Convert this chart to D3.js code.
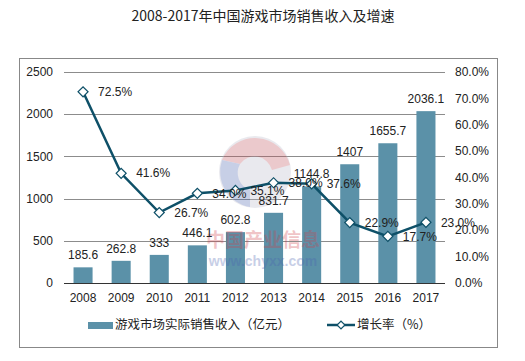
<!DOCTYPE html>
<html lang="zh">
<head>
<meta charset="UTF-8">
<title>2008-2017年中国游戏市场销售收入及增速</title>
<style>
  body { margin: 0; background: #fff; }
  svg { display: block; font-family: "Liberation Sans", Arial, sans-serif; }
</style>
</head>
<body>
<svg id="chart"></svg>
<script src="https://d3js.org/d3.v7.min.js"></script>
<script>
// data
const years = ["2008", "2009", "2010", "2011", "2012", "2013", "2014", "2015", "2016", "2017"];
const revenue = [185.6, 262.8, 333, 446.1, 602.8, 831.7, 1144.8, 1407, 1655.7, 2036.1];
const growth = [72.5, 41.6, 26.7, 34.0, 35.1, 38.0, 37.6, 22.9, 17.7, 23.0];
const leftTicks = [0, 500, 1000, 1500, 2000, 2500];
const rightTicks = [0, 10, 20, 30, 40, 50, 60, 70, 80];

const width = 525, height = 361;
const barColor = "#5b91a8", lineColor = "#0e5068";
const cjk = "'Noto Sans CJK SC', sans-serif";

const svg = d3.select("#chart")
    .attr("width", width)
    .attr("height", height)
    .attr("viewBox", [0, 0, width, height]);

// title
svg.append("text")
    .attr("x", 263).attr("y", 21)
    .attr("text-anchor", "middle")
    .attr("font-family", cjk)
    .attr("font-size", 14)
    .attr("fill", "#222")
    .text("2008-2017年中国游戏市场销售收入及增速");

// outer frame
svg.append("rect")
    .attr("x", 19.5).attr("y", 58.5)
    .attr("width", 478).attr("height", 289)
    .attr("fill", "none").attr("stroke", "#888");

const x = d3.scaleBand(years, [64, 445]).paddingInner(0.5).paddingOuter(0.25);
const yL = d3.scaleLinear([0, 2500], [283, 72]);
const yR = d3.scaleLinear([0, 80], [283, 72]);

// grid
svg.append("g")
    .selectAll("line")
    .data(leftTicks.slice(1))
    .join("line")
    .attr("x1", 64).attr("x2", 445)
    .attr("y1", d => Math.round(yL(d)) + 0.5)
    .attr("y2", d => Math.round(yL(d)) + 0.5)
    .attr("stroke", "#8c8c8c");

// bars
svg.append("g")
    .attr("fill", barColor)
    .selectAll("rect")
    .data(years)
    .join("rect")
    .attr("x", d => x(d))
    .attr("y", (d, i) => yL(revenue[i]))
    .attr("width", x.bandwidth())
    .attr("height", (d, i) => yL(0) - yL(revenue[i]));

// watermark (faint logo over the plot)
const wm = svg.append("g").attr("opacity", 0.3);
wm.append("circle").attr("cx", 255).attr("cy", 172).attr("r", 36).attr("fill", "#b8b8c8");
wm.append("path")
    .attr("d", "M222,160 A36,36 0 0 1 290,165 L272,170 A18,18 0 0 0 240,164 Z")
    .attr("fill", "#c0505a");
wm.append("path")
    .attr("d", "M222,160 A36,36 0 0 0 250,207 L250,190 A18,18 0 0 1 240,164 Z")
    .attr("fill", "#4a62b0");
wm.append("text")
    .attr("x", 263).attr("y", 247)
    .attr("text-anchor", "middle")
    .attr("font-family", cjk).attr("font-weight", "bold")
    .attr("font-size", 19).attr("fill", "#d0404a")
    .text("中国产业信息");
wm.append("text")
    .attr("x", 263).attr("y", 266)
    .attr("text-anchor", "middle")
    .attr("font-weight", "bold")
    .attr("font-size", 14).attr("fill", "#4a62b0")
    .text("www.chyxx.com");

// bottom axis line
svg.append("line")
    .attr("x1", 64).attr("x2", 445)
    .attr("y1", 283.5).attr("y2", 283.5)
    .attr("stroke", "#333");

// left axis labels
svg.append("g")
    .attr("font-size", 12).attr("fill", "#222")
    .attr("text-anchor", "end")
    .selectAll("text")
    .data(leftTicks)
    .join("text")
    .attr("x", 53)
    .attr("y", d => yL(d))
    .attr("dy", "0.35em")
    .text(d => d);

// right axis labels
svg.append("g")
    .attr("font-size", 12).attr("fill", "#222")
    .selectAll("text")
    .data(rightTicks)
    .join("text")
    .attr("x", 455)
    .attr("y", d => yR(d))
    .attr("dy", "0.35em")
    .text(d => d.toFixed(1) + "%");

// x labels
svg.append("g")
    .attr("font-size", 12).attr("fill", "#222")
    .attr("text-anchor", "middle")
    .selectAll("text")
    .data(years)
    .join("text")
    .attr("x", d => x(d) + x.bandwidth() / 2)
    .attr("y", 302)
    .text(d => d);

// bar value labels
svg.append("g")
    .attr("font-size", 12).attr("fill", "#222")
    .attr("text-anchor", "middle")
    .selectAll("text")
    .data(years)
    .join("text")
    .attr("x", d => x(d) + x.bandwidth() / 2)
    .attr("y", (d, i) => yL(revenue[i]) - 8)
    .text((d, i) => revenue[i]);

// growth line
const cx = d => x(d) + x.bandwidth() / 2;
const line = d3.line()
    .x(d => cx(d))
    .y((d, i) => yR(growth[i]));
svg.append("path")
    .datum(years)
    .attr("d", line)
    .attr("fill", "none")
    .attr("stroke", lineColor)
    .attr("stroke-width", 2.5);

svg.append("g")
    .selectAll("path")
    .data(years)
    .join("path")
    .attr("d", d3.symbol(d3.symbolSquare, 50))
    .attr("transform", (d, i) => `translate(${cx(d)},${yR(growth[i])}) rotate(45)`)
    .attr("fill", "#fff")
    .attr("stroke", lineColor)
    .attr("stroke-width", 1.2);

svg.append("g")
    .attr("font-size", 12).attr("fill", "#222")
    .selectAll("text")
    .data(years)
    .join("text")
    .attr("x", d => cx(d) + 15)
    .attr("y", (d, i) => yR(growth[i]))
    .attr("dy", "0.35em")
    .text((d, i) => growth[i].toFixed(1) + "%");

// legend
const lg = svg.append("g").attr("font-family", cjk).attr("font-size", 12.5).attr("fill", "#222");
lg.append("rect").attr("x", 88).attr("y", 322).attr("width", 25).attr("height", 7).attr("fill", barColor);
lg.append("text").attr("x", 115).attr("y", 325).attr("dy", "0.35em").text("游戏市场实际销售收入（亿元）");
lg.append("line").attr("x1", 327).attr("x2", 355).attr("y1", 325).attr("y2", 325)
    .attr("stroke", lineColor).attr("stroke-width", 2.5);
lg.append("path")
    .attr("d", d3.symbol(d3.symbolSquare, 30))
    .attr("transform", "translate(341,325) rotate(45)")
    .attr("fill", "#fff").attr("stroke", lineColor).attr("stroke-width", 1.2);
lg.append("text").attr("x", 357).attr("y", 325).attr("dy", "0.35em").text("增长率（%）");
</script>
</body>
</html>
